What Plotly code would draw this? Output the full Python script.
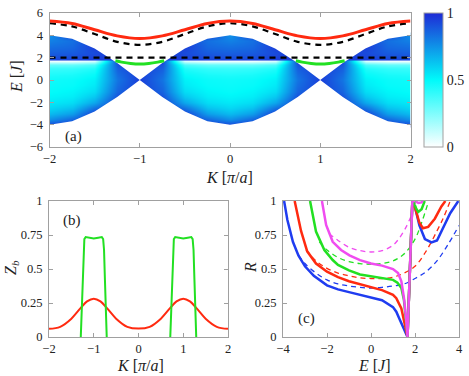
import plotly.graph_objects as go

W, H = 469, 376
FONT = "Liberation Serif"

# ---------------- panel (a): continuum + bound states ----------------
# band edge of the two-particle continuum (upper edge, lower edge is -E_TOP)
K_EDGE = [-2, -1.75, -1.5, -1.25, -1, -0.75, -0.5, -0.25, 0,
          0.25, 0.5, 0.75, 1, 1.25, 1.5, 1.75, 2]
E_TOP = [4.0, 3.7, 2.83, 1.53, 0.0, 1.53, 2.83, 3.7, 4.0,
         3.7, 2.83, 1.53, 0.0, 1.53, 2.83, 3.7, 4.0]

# colour map samples; columns K = 0, .25, .5, .75, 1
E_GRID = [-4, -3.5, -3, -2.5, -2, -1.5, -1, -0.5, 0, 0.5, 1, 1.4, 1.75, 1.85,
          2.5, 3, 3.5, 4]
Z_QUARTER = [
    [0.92, 0.95, 0.95, 0.95, 0.95],   # -4
    [0.76, 0.86, 0.95, 0.95, 0.95],   # -3.5
    [0.65, 0.72, 0.95, 0.95, 0.95],   # -3
    [0.58, 0.63, 0.82, 0.95, 0.95],   # -2.5
    [0.54, 0.57, 0.70, 0.95, 0.95],   # -2
    [0.51, 0.53, 0.62, 0.90, 0.95],   # -1.5
    [0.49, 0.51, 0.57, 0.86, 0.95],   # -1
    [0.48, 0.49, 0.54, 0.84, 0.95],   # -0.5
    [0.47, 0.48, 0.52, 0.82, 0.95],   # 0
    [0.44, 0.45, 0.49, 0.84, 0.95],   # 0.5
    [0.39, 0.40, 0.44, 0.87, 0.95],   # 1
    [0.30, 0.30, 0.35, 0.90, 0.95],   # 1.4
    [0.00, 0.00, 0.05, 0.95, 0.95],   # 1.75
    [0.93, 0.93, 0.95, 0.95, 0.95],   # 1.85
    [0.87, 0.88, 0.92, 0.95, 0.95],   # 2.5
    [0.83, 0.85, 0.95, 0.95, 0.95],   # 3
    [0.79, 0.83, 0.95, 0.95, 0.95],   # 3.5
    [0.75, 0.95, 0.95, 0.95, 0.95],   # 4
]

K_LINE = K_EDGE
E_RED_A = [5.28, 5.06, 4.5, 3.95, 3.72, 3.95, 4.5, 5.06, 5.28,
           5.06, 4.5, 3.95, 3.72, 3.95, 4.5, 5.06, 5.28]
E_DASH_A = [5.08, 4.8, 4.12, 3.42, 3.15, 3.42, 4.12, 4.8, 5.08,
            4.8, 4.12, 3.42, 3.15, 3.42, 4.12, 4.8, 5.08]
E_FLAT = [2.0] * len(K_LINE)
K_GREEN_A = [-1.27, -1.2, -1.1, -1.0, -0.9, -0.8, -0.73]
E_GREEN_A = [1.72, 1.6, 1.48, 1.43, 1.48, 1.6, 1.72]
K_GREEN_A2 = [0.73, 0.8, 0.9, 1.0, 1.1, 1.2, 1.27]

# ---------------- panel (b) ----------------
K_RED_B = [-2, -1.75, -1.5, -1.3, -1.15, -1, -0.85, -0.7, -0.5, -0.25, 0,
           0.25, 0.5, 0.7, 0.85, 1, 1.15, 1.3, 1.5, 1.75, 2]
Z_RED_B = [0.06, 0.075, 0.135, 0.21, 0.262, 0.282, 0.262, 0.21, 0.135, 0.075, 0.062,
           0.075, 0.135, 0.21, 0.262, 0.282, 0.262, 0.21, 0.135, 0.075, 0.06]
K_GREEN_B1 = [-1.29, -1.27, -1.25, -1.23, -1.21, -1.18, -1.1, -1.0, -0.9, -0.82,
              -0.79, -0.77, -0.75, -0.73, -0.71]
K_GREEN_B2 = [0.71, 0.73, 0.75, 0.77, 0.79, 0.82, 0.9, 1.0, 1.1, 1.18,
              1.21, 1.23, 1.25, 1.27, 1.29]
Z_GREEN_B = [0, 0.2, 0.42, 0.64, 0.72, 0.735, 0.73, 0.724, 0.73, 0.735,
             0.72, 0.64, 0.42, 0.2, 0]

# ---------------- panel (c) ----------------
E_BLUE = [-3.95, -3.8, -3.55, -3.3, -3.0, -2.6, -2.0, -1.5, -1.0, -0.5, 0.0, 0.5,
          1.0, 1.15, 1.3, 1.46, 1.6, 1.66, 1.77, 1.88, 1.95, 2.05, 2.2, 2.45,
          2.75, 3.0, 3.25, 3.6, 3.97]
R_BLUE = [1.0, 0.86, 0.70, 0.60, 0.52, 0.45, 0.38, 0.35, 0.33, 0.31, 0.295, 0.27,
          0.22, 0.186, 0.13, 0.077, 0.02, 0.0, 0.5, 1.0, 0.99, 0.93, 0.82, 0.72,
          0.695, 0.71, 0.79, 0.91, 1.0]
E_RED = [-3.47, -3.3, -3.18, -2.9, -2.5, -2.0, -1.5, -1.0, -0.5, 0.0, 0.5, 1.0,
         1.15, 1.38, 1.53, 1.6, 1.66, 1.77, 1.88, 1.95, 2.05, 2.2, 2.36, 2.6,
         2.9, 3.2, 3.38]
R_RED = [1.0, 0.87, 0.78, 0.63, 0.54, 0.48, 0.44, 0.41, 0.39, 0.37, 0.345, 0.31,
         0.285, 0.21, 0.11, 0.05, 0.0, 0.5, 1.0, 0.98, 0.92, 0.84, 0.80, 0.81,
         0.87, 0.96, 1.0]
E_GREEN = [-2.77, -2.6, -2.5, -2.12, -1.74, -1.5, -1.0, -0.5, 0.0, 0.5, 1.0,
           1.2, 1.38, 1.5, 1.6, 1.66, 1.77, 1.88, 1.95, 2.05, 2.15, 2.3, 2.44]
R_GREEN = [1.0, 0.84, 0.775, 0.64, 0.566, 0.53, 0.49, 0.46, 0.445, 0.435, 0.42,
           0.40, 0.36, 0.27, 0.12, 0.0, 0.5, 1.0, 0.99, 0.945, 0.92, 0.94, 1.0]
E_MAG = [-2.23, -2.1, -2.04, -1.74, -1.36, -0.98, -0.5, 0.0, 0.5, 1.0, 1.23,
         1.38, 1.5, 1.58, 1.66, 1.77, 1.88, 2.0, 2.15, 2.3, 2.35]
R_MAG = [1.0, 0.87, 0.824, 0.70, 0.64, 0.60, 0.565, 0.54, 0.525, 0.50, 0.47,
         0.41, 0.285, 0.16, 0.0, 0.5, 1.0, 1.0, 0.985, 0.99, 1.0]

E_BLUE_D = [-3.3, -3.0, -2.5, -2.0, -1.5, -1.0, -0.5, 0.0, 0.5, 1.0, 1.5, 2.0,
            2.5, 3.0, 3.5, 4.0]
R_BLUE_D = [0.60, 0.54, 0.47, 0.42, 0.39, 0.375, 0.365, 0.36, 0.365, 0.375, 0.39,
            0.43, 0.48, 0.56, 0.68, 0.82]
E_RED_D = [-2.95, -2.5, -2.0, -1.5, -1.0, -0.5, 0.0, 0.5, 1.0, 1.5, 2.0, 2.5,
           3.0, 3.3, 3.6]
R_RED_D = [0.64, 0.56, 0.505, 0.47, 0.45, 0.435, 0.43, 0.43, 0.44, 0.47, 0.52,
           0.63, 0.78, 0.88, 1.0]
E_GREEN_D = [-2.35, -2.0, -1.5, -1.0, -0.5, 0.0, 0.5, 1.0, 1.5, 2.0, 2.3, 2.6]
R_GREEN_D = [0.70, 0.64, 0.585, 0.555, 0.54, 0.535, 0.54, 0.56, 0.61, 0.72, 0.84, 0.99]
E_MAG_D = [-1.9, -1.5, -1.0, -0.5, 0.0, 0.5, 1.0, 1.3, 1.6, 1.85]
R_MAG_D = [0.76, 0.71, 0.66, 0.635, 0.625, 0.635, 0.675, 0.73, 0.81, 0.9]

RED, GREEN, BLUE, MAG = "#ff2a10", "#22e022", "#1f3cf0", "#f04cf0"

# full heatmap table: quarter rows mirrored over the K period
K_GRID = K_EDGE
z_table = []
for q in Z_QUARTER:
    half = q + q[3::-1]
    z_table.append(half + half[1:])

fig = go.Figure()

fig.add_trace(go.Heatmap(
    x=K_GRID, y=E_GRID, z=z_table, zmin=0, zmax=1, zsmooth="best",
    colorscale=[[0, "rgb(255,255,255)"], [0.5, "rgb(0,250,250)"], [1, "rgb(30,42,214)"]],
    colorbar=dict(x=424 / W, xanchor="left", y=1 - 147 / H, yanchor="bottom",
                  len=134, lenmode="pixels", thickness=19, xpad=0, ypad=0,
                  outlinewidth=1, outlinecolor="#a0a0a0",
                  tickvals=[0, 0.5, 1], ticktext=["0", "0.5", "1"], ticks="",
                  tickfont=dict(family=FONT, size=14, color="#222")),
    hoverinfo="skip", xaxis="x", yaxis="y"))

# white out everything outside the continuum
fig.add_trace(go.Scatter(x=K_EDGE + [2, -2], y=E_TOP + [4.5, 4.5], fill="toself",
                         fillcolor="white", mode="none", hoverinfo="skip",
                         showlegend=False, xaxis="x", yaxis="y"))
fig.add_trace(go.Scatter(x=K_EDGE + [2, -2], y=[-e for e in E_TOP] + [-4.5, -4.5],
                         fill="toself", fillcolor="white", mode="none",
                         hoverinfo="skip", showlegend=False, xaxis="x", yaxis="y"))

fig.add_trace(go.Scatter(x=K_LINE, y=E_DASH_A, mode="lines", line_shape="spline",
                         line=dict(color="black", width=2.2, dash="6px,5px"),
                         showlegend=False, xaxis="x", yaxis="y"))
fig.add_trace(go.Scatter(x=K_LINE, y=E_FLAT, mode="lines",
                         line=dict(color="black", width=2.2, dash="6px,5px"),
                         showlegend=False, xaxis="x", yaxis="y"))
fig.add_trace(go.Scatter(x=K_LINE, y=E_RED_A, mode="lines", line_shape="spline",
                         line=dict(color=RED, width=3), showlegend=False,
                         xaxis="x", yaxis="y"))
for kk in (K_GREEN_A, K_GREEN_A2):
    fig.add_trace(go.Scatter(x=kk, y=E_GREEN_A, mode="lines", line_shape="spline",
                             line=dict(color=GREEN, width=3), showlegend=False,
                             xaxis="x", yaxis="y"))

# (b)
fig.add_trace(go.Scatter(x=K_RED_B, y=Z_RED_B, mode="lines", line_shape="spline",
                         line=dict(color=RED, width=2), showlegend=False,
                         xaxis="x2", yaxis="y2"))
for kk in (K_GREEN_B1, K_GREEN_B2):
    fig.add_trace(go.Scatter(x=kk, y=Z_GREEN_B, mode="lines",
                             line=dict(color=GREEN, width=2), showlegend=False,
                             xaxis="x2", yaxis="y2"))

# (c) dashed first, solid on top
for ee, rr, col in [(E_BLUE_D, R_BLUE_D, BLUE), (E_RED_D, R_RED_D, RED),
                    (E_GREEN_D, R_GREEN_D, GREEN), (E_MAG_D, R_MAG_D, MAG)]:
    fig.add_trace(go.Scatter(x=ee, y=rr, mode="lines", line_shape="spline",
                             line=dict(color=col, width=1.3, dash="5px,4px"),
                             showlegend=False, xaxis="x3", yaxis="y3"))
for ee, rr, col in [(E_BLUE, R_BLUE, BLUE), (E_RED, R_RED, RED),
                    (E_GREEN, R_GREEN, GREEN), (E_MAG, R_MAG, MAG)]:
    fig.add_trace(go.Scatter(x=ee, y=rr, mode="lines",
                             line=dict(color=col, width=2.5),
                             showlegend=False, xaxis="x3", yaxis="y3"))

axis_style = dict(showline=True, linecolor="#a0a0a0", linewidth=1, mirror="ticks",
                  ticks="inside", ticklen=4, tickcolor="#a0a0a0", showgrid=False,
                  zeroline=False, automargin=False,
                  tickfont=dict(family=FONT, size=12.5, color="#222"))
x_style = dict(axis_style, ticklabelstandoff=0)
y_style = dict(axis_style, ticklabelstandoff=3)

fig.update_layout(
    width=W, height=H, margin=dict(l=0, r=0, t=0, b=0),
    paper_bgcolor="white", plot_bgcolor="white", showlegend=False,
    xaxis=dict(domain=[49.5 / W, 410.5 / W], anchor="y", range=[-2, 2],
               tickvals=[-2, -1, 0, 1, 2], **x_style),
    yaxis=dict(domain=[1 - 147 / H, 1 - 13 / H], anchor="x", range=[-6, 6],
               tickvals=[-6, -4, -2, 0, 2, 4, 6], **y_style),
    xaxis2=dict(domain=[49 / W, 228 / W], anchor="y2", range=[-2, 2],
                tickvals=[-2, -1, 0, 1, 2], **x_style),
    yaxis2=dict(domain=[1 - 337 / H, 1 - 201 / H], anchor="x2", range=[0, 1],
                tickvals=[0, 0.25, 0.5, 0.75, 1],
                ticktext=["0", "0.25", "0.5", "0.75", "1"], **y_style),
    xaxis3=dict(domain=[283 / W, 459 / W], anchor="y3", range=[-4, 4],
                tickvals=[-4, -2, 0, 2, 4], **x_style),
    yaxis3=dict(domain=[1 - 337 / H, 1 - 201 / H], anchor="x3", range=[0, 1],
                tickvals=[0, 0.25, 0.5, 0.75, 1],
                ticktext=["0", "0.25", "0.5", "0.75", "1"], **y_style),
)


def label(text, px, py, size=16, angle=0):
    fig.add_annotation(text=text, x=px / W, y=1 - py / H, xref="paper", yref="paper",
                       xanchor="center", yanchor="middle",
                       showarrow=False, textangle=angle,
                       font=dict(family=FONT, size=size, color="#222"))


label("<i>E</i> [<i>J</i>]", 17, 77, angle=-90)
label("<i>K</i> [<i>π</i>/<i>a</i>]", 229, 177)
label("<i>Z<sub>b</sub></i>", 11, 268, angle=-90)
label("<i>K</i> [<i>π</i>/<i>a</i>]", 140, 365)
label("<i>R</i>", 250, 268, angle=-90)
label("<i>E</i> [<i>J</i>]", 374, 365)
label("(a)", 73, 136, size=15)
label("(b)", 72, 220, size=15)
label("(c)", 306, 318, size=15)

# page body has a default 8px margin; drop it so the figure sits at the origin
fig.write_html("out.html", config={"displayModeBar": False},
               post_script="document.body.style.margin='0';")
